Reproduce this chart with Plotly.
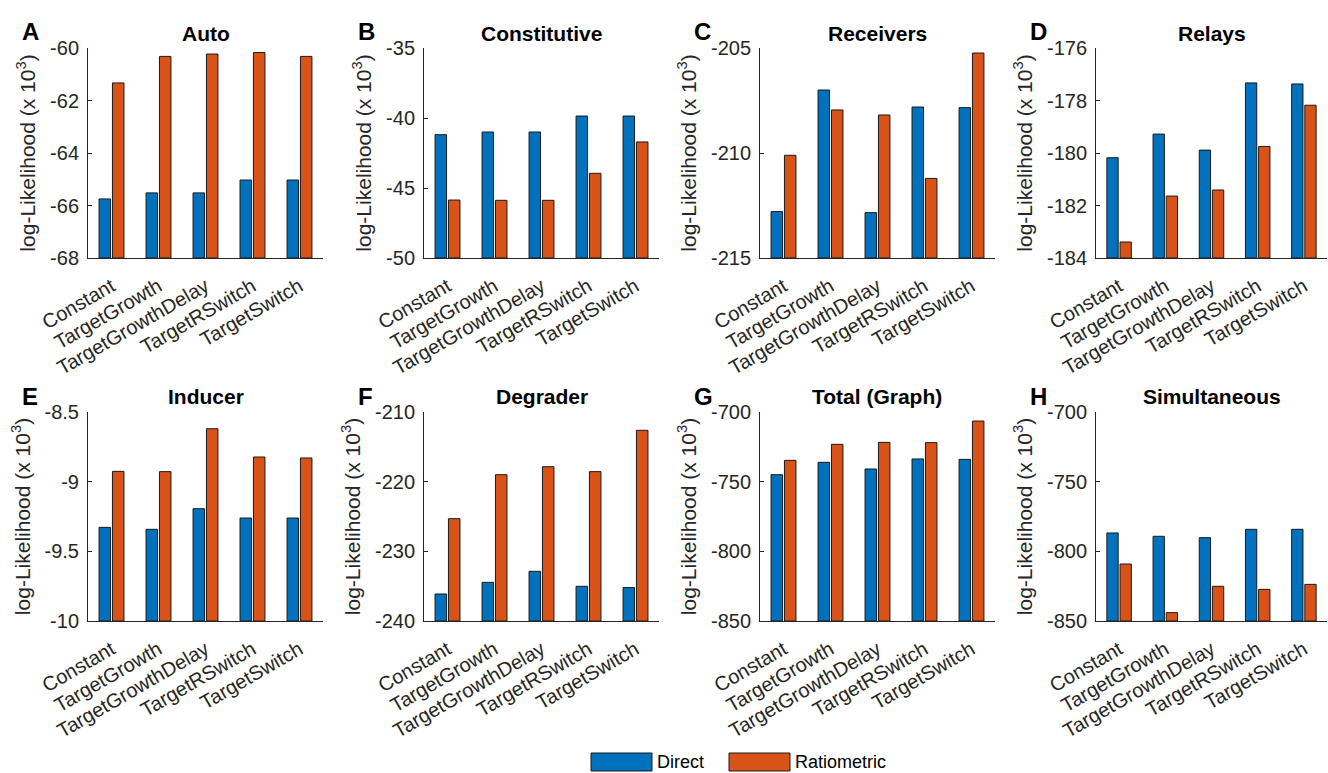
import plotly.graph_objects as go

# Model variants compared in every panel
models = ["Constant", "TargetGrowth", "TargetGrowthDelay", "TargetRSwitch", "TargetSwitch"]

# log-likelihood values (x 10^3), one pair of series per circuit
auto_direct = [-65.75, -65.52, -65.52, -65.03, -65.03]
auto_ratio = [-61.33, -60.32, -60.23, -60.17, -60.32]

constitutive_direct = [-41.19, -41.0, -41.0, -39.86, -39.86]
constitutive_ratio = [-45.86, -45.88, -45.88, -43.95, -41.71]

receivers_direct = [-212.79, -207.0, -212.84, -207.81, -207.84]
receivers_ratio = [-210.11, -207.95, -208.19, -211.21, -205.24]

relays_direct = [-180.18, -179.28, -179.89, -177.33, -177.37]
relays_ratio = [-183.39, -181.64, -181.41, -179.75, -178.18]

inducer_direct = [-9.328, -9.342, -9.194, -9.261, -9.261]
inducer_ratio = [-8.926, -8.928, -8.62, -8.823, -8.83]

degrader_direct = [-236.12, -234.45, -232.87, -235.02, -235.2]
degrader_ratio = [-225.31, -219.0, -217.85, -218.56, -212.63]

total_direct = [-745.0, -736.1, -740.9, -733.7, -734.0]
total_ratio = [-734.7, -723.2, -721.8, -722.0, -706.5]

simult_direct = [-786.8, -789.2, -790.2, -784.2, -784.2]
simult_ratio = [-809.1, -844.0, -825.1, -827.3, -823.7]

panel_letters = ["A", "B", "C", "D", "E", "F", "G", "H"]
panel_titles = ["Auto", "Constitutive", "Receivers", "Relays",
                "Inducer", "Degrader", "Total (Graph)", "Simultaneous"]
y_ranges = [(-68, -60), (-50, -35), (-215, -205), (-184, -176),
            (-10, -8.5), (-240, -210), (-850, -700), (-850, -700)]
y_steps = [2, 5, 5, 2, 0.5, 10, 50, 50]
series = [
    (auto_direct, auto_ratio),
    (constitutive_direct, constitutive_ratio),
    (receivers_direct, receivers_ratio),
    (relays_direct, relays_ratio),
    (inducer_direct, inducer_ratio),
    (degrader_direct, degrader_ratio),
    (total_direct, total_ratio),
    (simult_direct, simult_ratio),
]

BLUE = "#0072BD"
ORANGE = "#D95319"
AXIS = "#262626"
FONT = "Liberation Sans, Arial, sans-serif"

W, H = 1328, 773
col_px = [(88, 323), (424, 659), (760, 995), (1096, 1327)]
row_px = [(48, 258), (412, 621)]


def px_x(v):
    return v / W


def px_y(v):
    return 1 - v / H


def fmt(v):
    return "%g" % v


fig = go.Figure()
annotations = []
shapes = []
x_pos = list(range(1, len(models) + 1))

for i, (direct, ratio) in enumerate(series):
    r, c = divmod(i, 4)
    n = i + 1
    xa = "x" if n == 1 else f"x{n}"
    ya = "y" if n == 1 else f"y{n}"
    lo, hi = y_ranges[i]
    # Bars rise from the bottom of the axis range, as in the original plot
    fig.add_trace(go.Bar(
        x=x_pos, y=[v - lo for v in direct], base=lo,
        width=0.245, offset=-0.265,
        marker=dict(color=BLUE, line=dict(color="#1a1a1a", width=1)),
        name="Direct", showlegend=False, xaxis=xa, yaxis=ya,
        customdata=direct, hovertemplate="%{customdata}<extra>Direct</extra>",
    ))
    fig.add_trace(go.Bar(
        x=x_pos, y=[v - lo for v in ratio], base=lo,
        width=0.245, offset=0.02,
        marker=dict(color=ORANGE, line=dict(color="#1a1a1a", width=1)),
        name="Ratiometric", showlegend=False, xaxis=xa, yaxis=ya,
        customdata=ratio, hovertemplate="%{customdata}<extra>Ratiometric</extra>",
    ))

    x0, x1 = col_px[c]
    y0, y1 = row_px[r]
    nticks = int(round((hi - lo) / y_steps[i]))
    tv = [lo + k * y_steps[i] for k in range(nticks + 1)]
    xkey = "xaxis" if n == 1 else f"xaxis{n}"
    ykey = "yaxis" if n == 1 else f"yaxis{n}"
    fig.layout[xkey] = dict(
        domain=[px_x(x0), px_x(x1)], anchor=ya, range=[0.5, 5.5],
        tickvals=x_pos, ticktext=models, tickangle=-30,
        showline=True, linecolor=AXIS, linewidth=1,
        ticks="", showgrid=False, zeroline=False, automargin=False,
        ticklabelstandoff=8,
        tickfont=dict(family=FONT, size=20, color=AXIS),
        fixedrange=True,
    )
    fig.layout[ykey] = dict(
        domain=[px_y(y1), px_y(y0)], anchor=xa, range=[lo, hi],
        tickvals=tv, ticktext=[fmt(v) for v in tv],
        showline=True, linecolor=AXIS, linewidth=1,
        ticks="inside", ticklen=4, tickcolor=AXIS,
        showgrid=False, zeroline=False, automargin=False,
        ticklabelstandoff=4,
        tickfont=dict(family=FONT, size=20, color=AXIS),
        title=dict(text="log-Likelihood (x 10<sup>3</sup>)", standoff=8,
                   font=dict(family=FONT, size=21, color=AXIS)),
        fixedrange=True,
    )

    # panel title
    annotations.append(dict(
        text=f"<b>{panel_titles[i]}</b>", x=px_x((x0 + x1) / 2),
        y=px_y(y0 - 15), xref="paper", yref="paper",
        xanchor="center", yanchor="middle", showarrow=False,
        font=dict(family=FONT, size=21, color="#000000"),
    ))
    # panel letter
    annotations.append(dict(
        text=f"<b>{panel_letters[i]}</b>", x=px_x(x0 - 68),
        y=px_y(y0 - 16), xref="paper", yref="paper",
        xanchor="left", yanchor="middle", showarrow=False,
        font=dict(family=FONT, size=24, color="#000000"),
    ))

# legend along the bottom edge
legend_items = [("Direct", BLUE, 591), ("Ratiometric", ORANGE, 729)]
for label, color, lx in legend_items:
    shapes.append(dict(
        type="rect", xref="paper", yref="paper",
        x0=px_x(lx), x1=px_x(lx + 61), y0=px_y(771), y1=px_y(753),
        fillcolor=color, line=dict(color="#1a1a1a", width=1),
    ))
    annotations.append(dict(
        text=label, x=px_x(lx + 64), y=px_y(762), xref="paper", yref="paper",
        xanchor="left", yanchor="middle", showarrow=False,
        font=dict(family=FONT, size=18, color="#000000"),
    ))

fig.update_layout(
    width=W, height=H,
    margin=dict(l=0, r=0, t=0, b=0, autoexpand=False),
    paper_bgcolor="white", plot_bgcolor="white",
    barmode="overlay", showlegend=False,
    annotations=annotations, shapes=shapes,
    font=dict(family=FONT),
)

fig.write_html("out.html")
